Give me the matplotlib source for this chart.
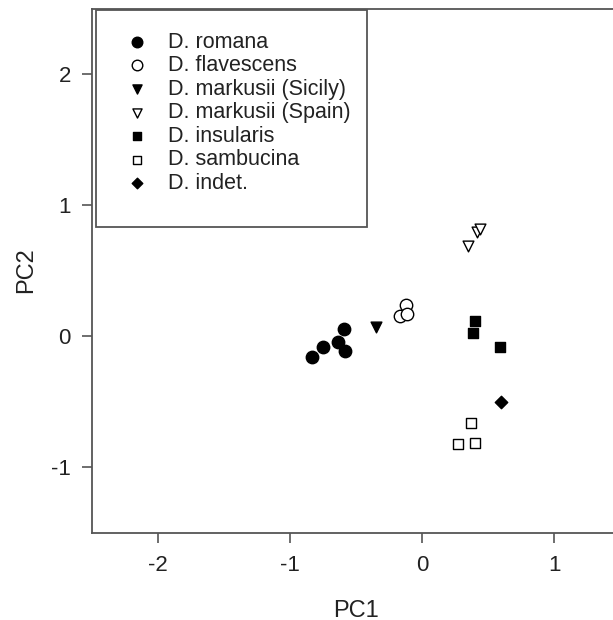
import matplotlib
matplotlib.use('Agg')
from matplotlib import pyplot as plt
from matplotlib.patches import Rectangle

plt.rcParams['font.family'] = ['Liberation Sans', 'DejaVu Sans']

# PCA scores
romana_x = [-0.83, -0.75, -0.64, -0.58, -0.59]
romana_y = [-0.16, -0.08, -0.04, -0.11, 0.06]
flavescens_x = [-0.17, -0.12, -0.11]
flavescens_y = [0.16, 0.24, 0.17]
sicily_x = [-0.35]
sicily_y = [0.07]
spain_x = [0.35, 0.42, 0.44]
spain_y = [0.69, 0.80, 0.82]
insularis_x = [0.40, 0.39, 0.59]
insularis_y = [0.12, 0.03, -0.08]
sambucina_x = [0.37, 0.27, 0.40]
sambucina_y = [-0.66, -0.82, -0.81]
indet_x = [0.60]
indet_y = [-0.50]

labels = ['D. romana', 'D. flavescens', 'D. markusii (Sicily)', 'D. markusii (Spain)',
          'D. insularis', 'D. sambucina', 'D. indet.']
xticks = [-2, -1, 0, 1]
yticks = [-1, 0, 1, 2]

W, H = 613, 620
fig = plt.figure(figsize=(W / 100, H / 100), dpi=100)
# plot box runs a little past the right edge of the image, as in the original
ax = fig.add_axes([92 / W, 1 - 533 / H, 528 / W, 524 / H])

series = [
    (romana_x, romana_y, 'o', 'k', 'k', 80),
    (flavescens_x, flavescens_y, 'o', 'white', 'k', 80),
    (sicily_x, sicily_y, 'v', 'k', 'k', 60),
    (spain_x, spain_y, 'v', 'white', 'k', 60),
    (insularis_x, insularis_y, 's', 'k', 'k', 55),
    (sambucina_x, sambucina_y, 's', 'white', 'k', 55),
    (indet_x, indet_y, 'D', 'k', 'k', 40),
]
handles = []
for (xs, ys, m, fc, ec, s), lab in zip(series, labels):
    h = ax.scatter(xs, ys, marker=m, s=s, facecolors=fc, edgecolors=ec, linewidths=1.0, label=lab, zorder=3)
    handles.append(h)

ax.set_xlim(-2.5, 1.5)
ax.set_ylim(-1.5, 2.5)
ax.set_xticks(xticks)
ax.set_yticks(yticks)
ax.set_xticklabels([str(t) for t in xticks])
ax.set_yticklabels([str(t) for t in yticks])
ax.tick_params(direction='out', length=7.2, width=1.2, color='#555555', labelsize=16, labelcolor='#222222')
ax.tick_params(axis='x', pad=8.5)
ax.tick_params(axis='y', pad=8)
for sp in ax.spines.values():
    sp.set_color('#555555')
    sp.set_linewidth(1.3)
ax.set_xlabel('PC1', fontsize=17, color='#222222')
ax.set_ylabel('PC2', fontsize=17, color='#222222')
ax.xaxis.set_label_coords(0.5, -0.127)
ax.yaxis.set_label_coords(-0.104, 0.502)

# legend frame drawn as a plain box
fig.patches.append(Rectangle((96 / W, 1 - 227 / H), (367 - 96) / W, (227 - 10) / H,
                             transform=fig.transFigure, fill=True, facecolor='white',
                             edgecolor='#555555', linewidth=1.3, zorder=5))
leg = fig.legend(handles=handles, loc='upper left', bbox_to_anchor=(100 / W, 1 - 10 / H),
                 bbox_transform=fig.transFigure, frameon=False, fontsize=15.5,
                 borderpad=1.0, labelspacing=0.12, handlelength=1.4, handletextpad=0.75,
                 borderaxespad=0, scatterpoints=1, markerscale=0.85)
leg.set_zorder(6)
for t in leg.get_texts():
    t.set_color('#222222')

fig.savefig('out.png', dpi=100)
